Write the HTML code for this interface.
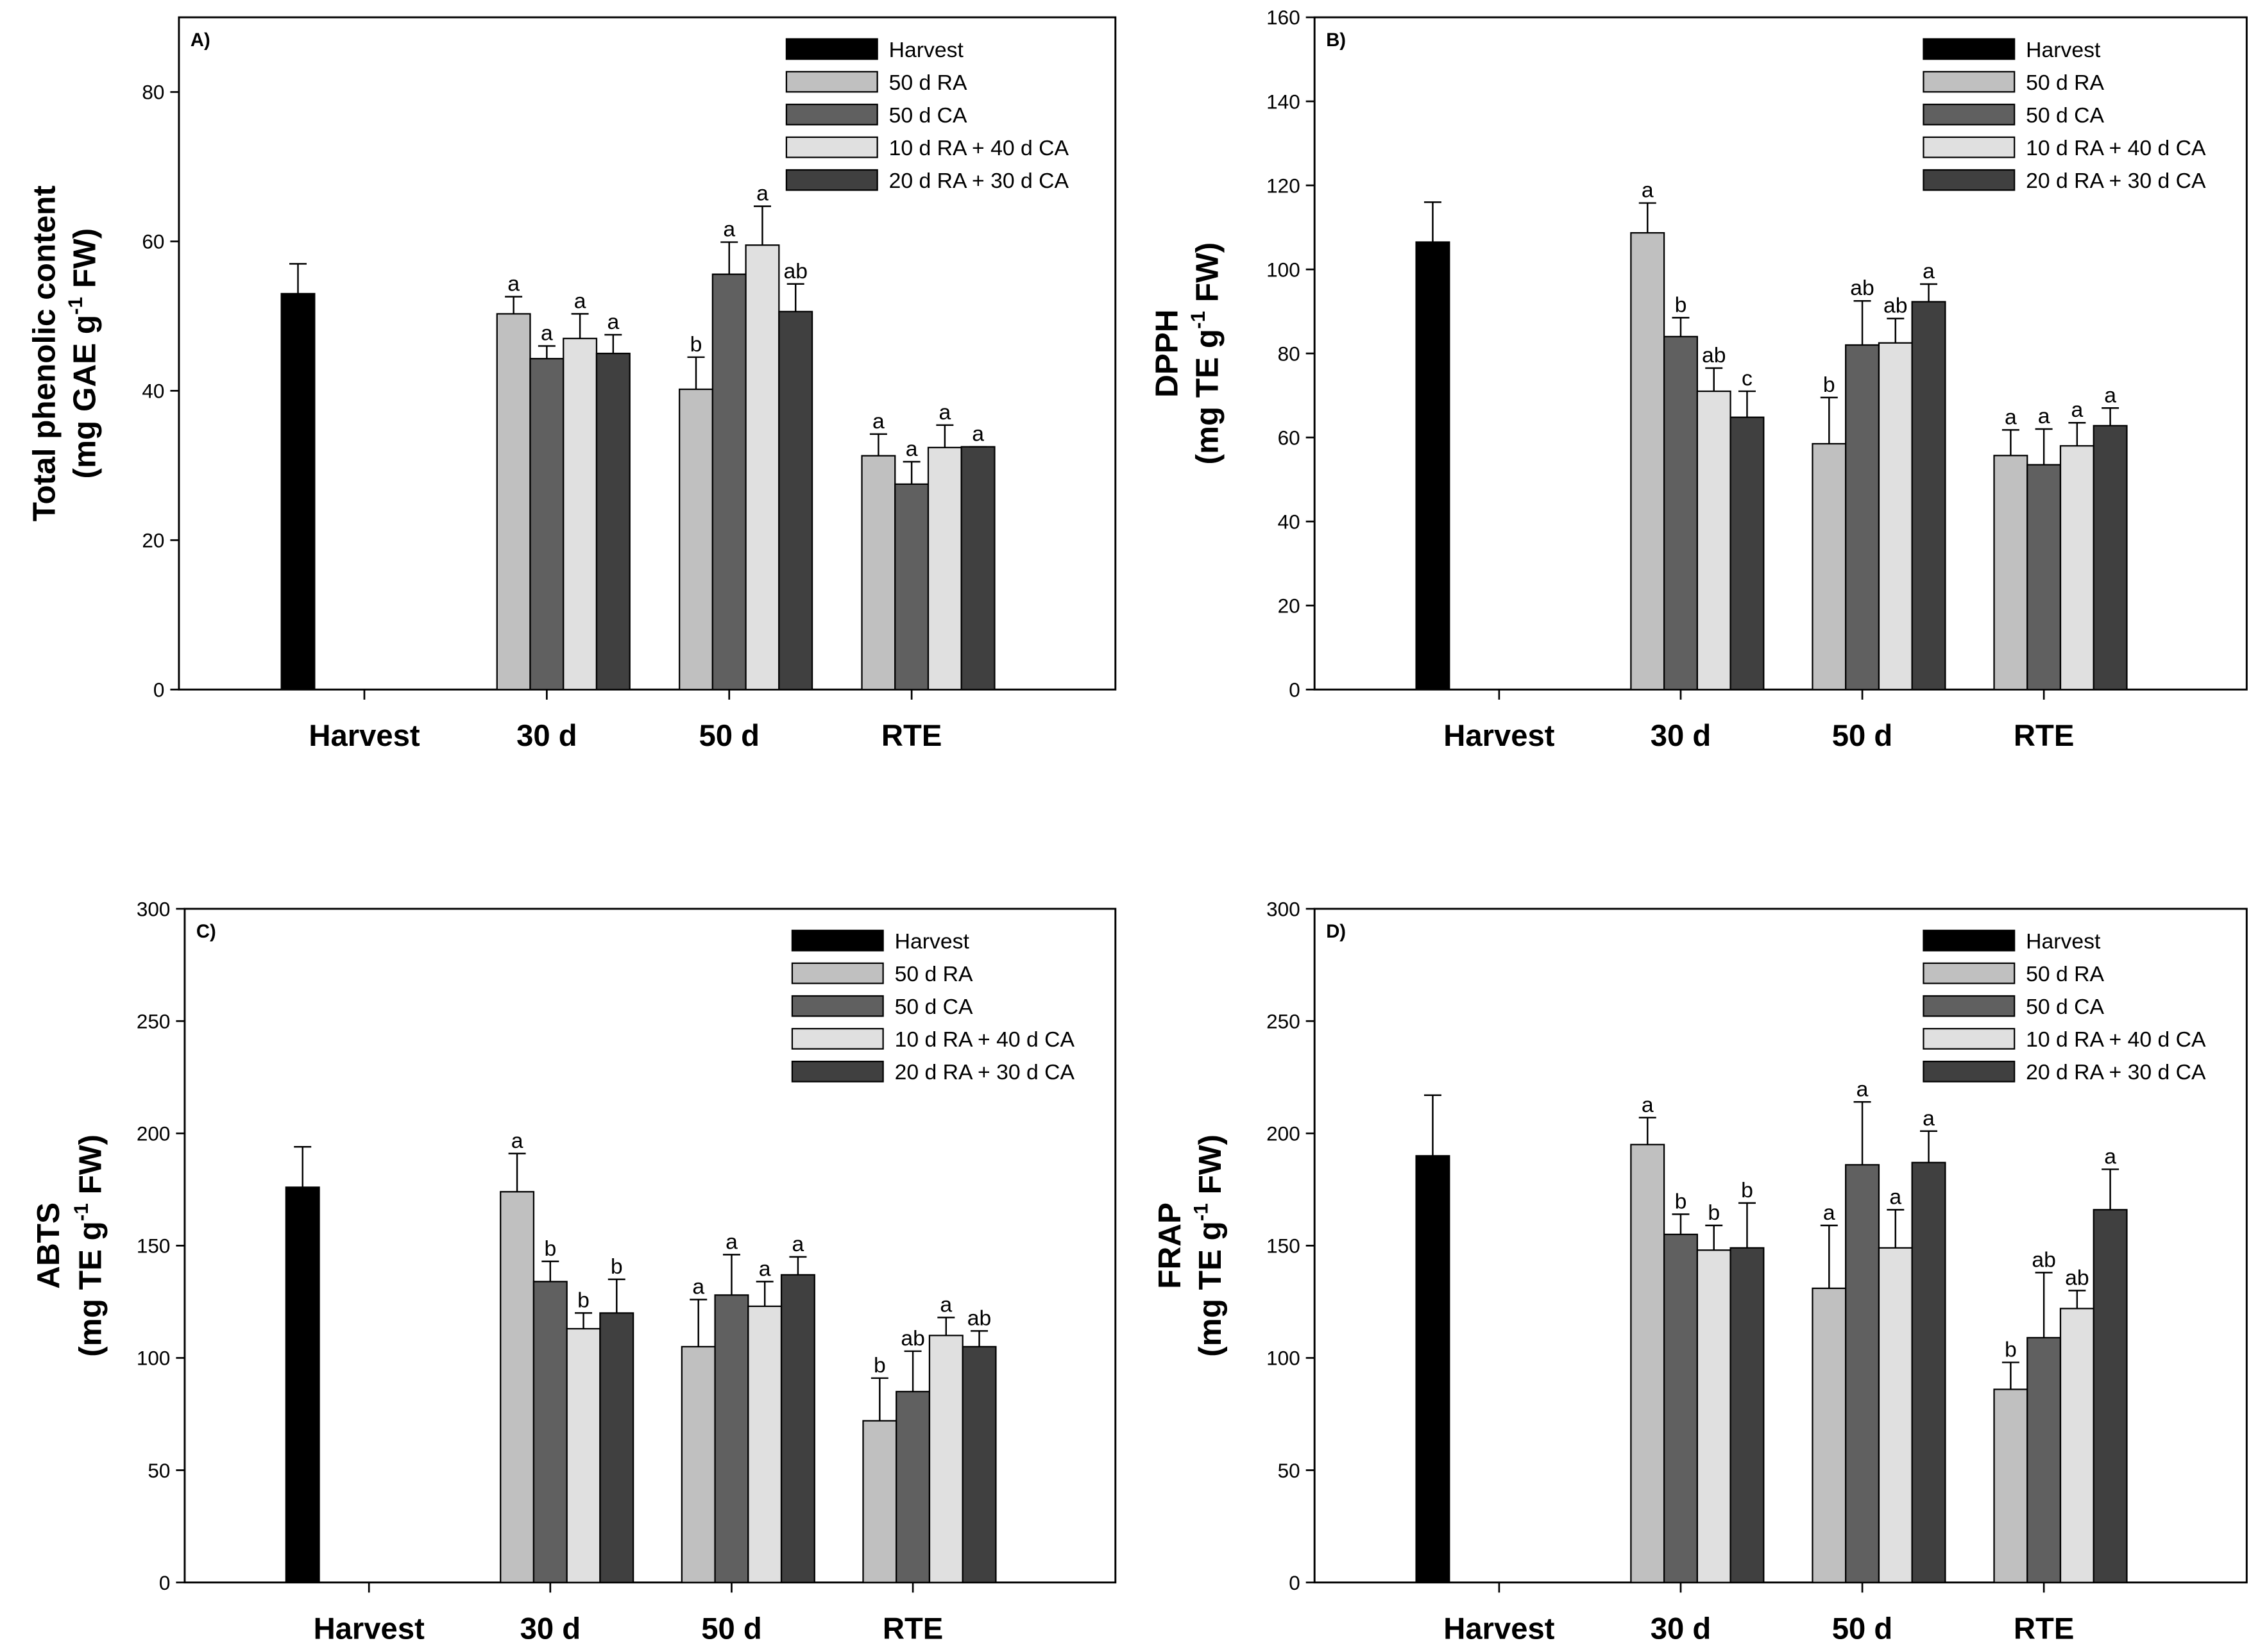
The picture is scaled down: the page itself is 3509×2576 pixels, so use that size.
<!DOCTYPE html>
<html><head><meta charset="utf-8"><style>
html,body{margin:0;padding:0;background:#fff}
svg{display:block}
text{font-family:"Liberation Sans",Arial,sans-serif}
</style></head><body>
<svg id="fig" width="3509" height="2576" viewBox="0 0 3509 2576" xmlns="http://www.w3.org/2000/svg">
<g id="root" transform="scale(2.2494)"></g>
</svg>
<script>
const categories = ["Harvest","30 d","50 d","RTE"];
const seriesNames = ["Harvest","50 d RA","50 d CA","10 d RA + 40 d CA","20 d RA + 30 d CA"];
const seriesColors = ["#000000","#c0c0c0","#606060","#e0e0e0","#404040"];
const harvestA = [53, 57];
const valuesA = [[50.3,44.3,47,45],[40.2,55.6,59.5,50.6],[31.3,27.5,32.4,32.5]];
const errorsA = [[52.6,46,50.3,47.5],[44.5,59.9,64.7,54.3],[34.2,30.5,35.4,32.5]];
const lettersA = [["a","a","a","a"],["b","a","a","ab"],["a","a","a","a"]];
const harvestB = [106.5, 116];
const valuesB = [[108.7,84,71,64.8],[58.5,82,82.5,92.3],[55.7,53.5,58,62.8]];
const errorsB = [[115.8,88.5,76.5,71],[69.5,92.5,88.3,96.5],[61.8,62,63.5,67]];
const lettersB = [["a","b","ab","c"],["b","ab","ab","a"],["a","a","a","a"]];
const harvestC = [176, 194];
const valuesC = [[174,134,113,120],[105,128,123,137],[72,85,110,105]];
const errorsC = [[191,143,120,135],[126,146,134,145],[91,103,118,112]];
const lettersC = [["a","b","b","b"],["a","a","a","a"],["b","ab","a","ab"]];
const harvestD = [190, 217];
const valuesD = [[195,155,148,149],[131,186,149,187],[86,109,122,166]];
const errorsD = [[207,164,159,169],[159,214,166,201],[98,138,130,184]];
const lettersD = [["a","b","b","b"],["a","a","a","a"],["b","ab","ab","a"]];
const ticksA = [0,20,40,60,80];
const ticksB = [0,20,40,60,80,100,120,140,160];
const ticksC = [0,50,100,150,200,250,300];
const ticksD = [0,50,100,150,200,250,300];

const NS="http://www.w3.org/2000/svg";
const root=document.getElementById('root');
function mk(tag,attrs,parent,txt){const e=document.createElementNS(NS,tag);for(const k in attrs)e.setAttribute(k,attrs[k]);if(txt!==undefined)e.textContent=txt;(parent||root).appendChild(e);return e;}

const panels=[
 {id:'a',label:'A)',L:124,R:773,T:12,B:478,ymax:90,ticks:ticksA,h:harvestA,v:valuesA,e:errorsA,l:lettersA,t1:'Total phenolic content',t2:['(mg GAE g','-1',' FW)'],tx1:30,tx2:58,legX:545},
 {id:'b',label:'B)',L:911,R:1557,T:12,B:478,ymax:160,ticks:ticksB,h:harvestB,v:valuesB,e:errorsB,l:lettersB,t1:'DPPH',t2:['(mg TE g','-1',' FW)'],tx1:808,tx2:836,legX:1333},
 {id:'c',label:'C)',L:128,R:773,T:630,B:1097,ymax:300,ticks:ticksC,h:harvestC,v:valuesC,e:errorsC,l:lettersC,t1:'ABTS',t2:['(mg TE g','-1',' FW)'],tx1:33,tx2:62,legX:549},
 {id:'d',label:'D)',L:911,R:1557,T:630,B:1097,ymax:300,ticks:ticksD,h:harvestD,v:valuesD,e:errorsD,l:lettersD,t1:'FRAP',t2:['(mg TE g','-1',' FW)'],tx1:810,tx2:838,legX:1333}
];

panels.forEach(p=>{
 const g=mk('g',{});
 
 
 const y=v=>p.B-(v/p.ymax)*(p.B-p.T);
 const w=p.R-p.L;
 const c0=p.L+w*0.198, step=w*0.1948;
 const slot=23;
 const cx=i=>c0+i*step;
 const box=mk('rect',{x:p.L,y:p.T,width:w,height:p.B-p.T,fill:'none',stroke:'#000','stroke-width':1.3},g);
 
 
 p.ticks.forEach(t=>{
  mk('line',{x1:p.L-6,x2:p.L,y1:y(t),y2:y(t),stroke:'#000','stroke-width':1.2},g);
  const tl=mk('text',{x:p.L-10,y:y(t)+5,'text-anchor':'end','font-size':14},g,String(t));
  
  
 });
 categories.forEach((c,i)=>{
  mk('line',{x1:cx(i),x2:cx(i),y1:p.B,y2:p.B+7,stroke:'#000','stroke-width':1.2},g);
  const xl=mk('text',{x:cx(i),y:p.B+39,'text-anchor':'middle','font-size':21,'font-weight':'bold'},g,c);
  
  
 });
 function bar(x,val,err,col,lab){
  const r=mk('rect',{x:x,y:y(val),width:slot,height:p.B-y(val),fill:col,stroke:'#000','stroke-width':1},g);
  
  
  const xm=x+slot/2;
  if(err>val){
   mk('line',{x1:xm,x2:xm,y1:y(val),y2:y(err),stroke:'#000','stroke-width':1.1},g);
  }
  mk('line',{x1:xm-6,x2:xm+6,y1:y(err),y2:y(err),stroke:'#000','stroke-width':1.1},g);
  if(lab){
   const t=mk('text',{x:xm,y:y(err)-4,'text-anchor':'middle','font-size':15},g,lab);
   
   
  }
 }
 bar(cx(0)-2.5*slot,p.h[0],p.h[1],seriesColors[0],null);
 for(let ci=0;ci<3;ci++){
  for(let s=0;s<4;s++){
   bar(cx(ci+1)-2.5*slot+(s+1)*slot,p.v[ci][s],p.e[ci][s],seriesColors[s+1],p.l[ci][s]);
  }
 }
 seriesNames.forEach((n,i)=>{
  const yy=p.T+22+i*22.7;
  const sw=mk('rect',{x:p.legX,y:yy-7,width:63,height:14,fill:seriesColors[i],stroke:'#000','stroke-width':1},g);
  
  
  const lt=mk('text',{x:p.legX+71,y:yy+5.5,'font-size':15},g,n);
  
  
 });
 const pl=mk('text',{x:p.L+8,y:p.T+20,'font-size':13,'font-weight':'bold'},g,p.label);
 
 
 const my=(p.T+p.B)/2;
 const t1=mk('text',{x:p.tx1,y:my,'text-anchor':'middle','font-size':22,'font-weight':'bold',transform:`rotate(-90 ${p.tx1} ${my})`,dy:8},g,p.t1);
 
 
 const t2=mk('text',{x:p.tx2,y:my,'text-anchor':'middle','font-size':22,'font-weight':'bold',transform:`rotate(-90 ${p.tx2} ${my})`,dy:8},g);
 
 
 mk('tspan',{},t2,p.t2[0]);
 mk('tspan',{dy:-9,'font-size':14},t2,p.t2[1]);
 mk('tspan',{dy:9},t2,p.t2[2]);
});
</script>
</body></html>
